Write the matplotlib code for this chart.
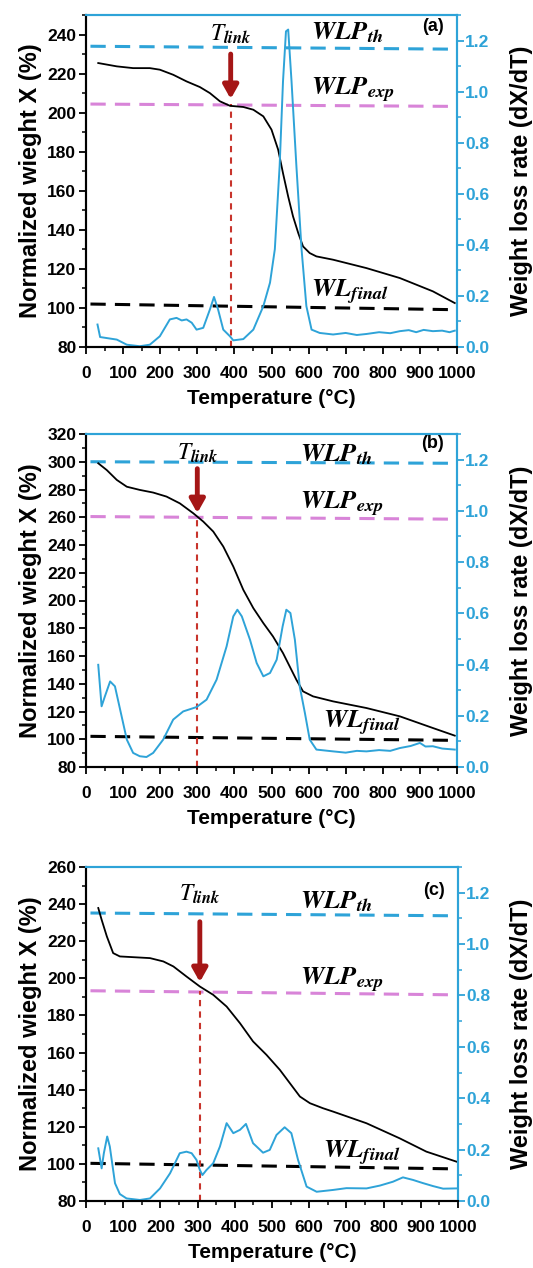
import matplotlib.pyplot as plt
from matplotlib.ticker import MultipleLocator

plt.rcParams['font.family'] = ['Liberation Sans', 'DejaVu Sans']
plt.rcParams['mathtext.fontset'] = 'stix'

# ---- data ----
# panel (a)
tga_t_a = [33, 83, 127, 172, 199, 235, 271, 307, 334, 361, 388, 424, 451, 478, 500, 518, 531,
           545, 558, 572, 585, 603, 621, 666, 756, 846, 935, 994]
tga_a = [225.4, 223.7, 222.8, 222.8, 222.0, 219.4, 216.0, 213.1, 210.0, 205.8, 203.5, 202.9,
         201.5, 198.1, 191.3, 181.0, 169.0, 157.0, 146.9, 138.4, 131.5, 128.1, 126.4, 124.7,
         120.4, 115.3, 108.5, 102.5]
dtg_t_a = [31, 38, 56, 83, 110, 145, 172, 199, 226, 244, 258, 271, 285, 298, 316, 334, 345,
           356, 370, 388, 397, 424, 451, 478, 496, 509, 522, 531, 539, 545, 554, 567, 581, 594,
           608, 630, 666, 700, 730, 756, 790, 820, 846, 870, 890, 910, 935, 960, 980, 994]
dtg_a = [0.088, 0.039, 0.035, 0.029, 0.009, 0.003, 0.009, 0.042, 0.108, 0.114, 0.104, 0.108,
         0.095, 0.068, 0.075, 0.147, 0.196, 0.147, 0.068, 0.042, 0.026, 0.031, 0.068, 0.160,
         0.252, 0.383, 0.711, 1.040, 1.236, 1.243, 1.040, 0.711, 0.383, 0.160, 0.068, 0.055,
         0.049, 0.055, 0.047, 0.051, 0.058, 0.054, 0.062, 0.066, 0.058, 0.067, 0.062, 0.064,
         0.058, 0.064]

# panel (b)
tga_t_b = [33, 56, 83, 110, 145, 181, 217, 253, 289, 316, 343, 370, 397, 424, 451, 478, 504,
           531, 549, 567, 585, 612, 666, 756, 846, 935, 994]
tga_b = [298.9, 294.0, 286.9, 282.0, 279.7, 277.8, 274.9, 270.0, 262.9, 256.9, 249.7, 238.9,
         224.5, 207.7, 194.5, 183.7, 174.1, 162.1, 152.5, 142.9, 134.5, 130.9, 127.3, 122.5,
         116.5, 108.1, 102.6]
dtg_t_b = [33, 42, 51, 65, 78, 92, 110, 127, 145, 163, 181, 208, 235, 262, 298, 325, 352, 379,
           397, 408, 420, 442, 460, 478, 496, 514, 530, 540, 551, 563, 576, 590, 603, 621, 666,
           700, 730, 756, 790, 820, 846, 875, 900, 915, 935, 960, 994]
dtg_b = [0.399, 0.237, 0.276, 0.334, 0.315, 0.224, 0.107, 0.055, 0.042, 0.039, 0.055, 0.107,
         0.185, 0.217, 0.234, 0.263, 0.341, 0.471, 0.588, 0.614, 0.588, 0.497, 0.406, 0.354,
         0.367, 0.419, 0.549, 0.614, 0.601, 0.497, 0.315, 0.211, 0.107, 0.068, 0.061, 0.056,
         0.063, 0.061, 0.066, 0.063, 0.074, 0.082, 0.094, 0.080, 0.081, 0.072, 0.068]

# panel (c)
tga_t_c = [33, 42, 56, 73, 91, 127, 172, 208, 235, 270, 306, 342, 378, 414, 449, 485, 521, 548,
           575, 602, 637, 664, 754, 843, 915, 996]
tga_c = [237.9, 231.6, 222.6, 213.6, 211.8, 211.4, 210.9, 209.1, 206.4, 201.0, 195.6, 191.1,
         184.8, 175.8, 166.0, 158.8, 150.7, 143.5, 136.3, 132.7, 130.0, 128.2, 121.9, 113.8,
         106.6, 101.2]
dtg_t_c = [33, 42, 48, 57, 64, 78, 91, 109, 145, 172, 199, 226, 252, 270, 284, 297, 306, 313,
           324, 342, 360, 378, 396, 414, 430, 449, 476, 494, 512, 534, 552, 570, 593, 620, 664,
           700, 754, 790, 825, 852, 879, 905, 933, 960, 996]
dtg_c = [0.205, 0.127, 0.186, 0.251, 0.212, 0.069, 0.027, 0.010, 0.004, 0.010, 0.049, 0.108,
         0.186, 0.192, 0.186, 0.160, 0.121, 0.101, 0.121, 0.147, 0.212, 0.303, 0.264, 0.277,
         0.300, 0.225, 0.188, 0.199, 0.257, 0.287, 0.264, 0.160, 0.056, 0.036, 0.043, 0.050,
         0.049, 0.060, 0.075, 0.092, 0.082, 0.070, 0.058, 0.048, 0.049]

# reference levels (left-axis units): start and end of each hand-drawn dashed line
wlp_th = [(234.0, 232.5), (300.0, 298.9), (235.2, 233.7)]
wlp_exp = [(204.4, 203.2), (260.5, 258.6), (193.3, 191.1)]
wl_final = [(102.0, 99.1), (102.1, 99.2), (100.3, 97.3)]
t_link = [390, 300, 306]
ylims = [(80, 250), (80, 320), (80, 260)]
letters = ['(a)', '(b)', '(c)']

panels = [(tga_t_a, tga_a, dtg_t_a, dtg_a),
          (tga_t_b, tga_b, dtg_t_b, dtg_b),
          (tga_t_c, tga_c, dtg_t_c, dtg_c)]

BLUE = '#2ea3d8'
PINK = '#d884d8'
DRED = '#a51616'
RED = '#c8342c'

W, H = 533, 1268
fig = plt.figure(figsize=(W / 100, H / 100), dpi=100)
boxes = [(86, 457, 15, 347), (86, 457, 434, 767), (86, 458, 867, 1201)]

# text positions per panel (x, y in left-axis data units)
tlink_pos = [(390, 240), (300, 306), (306, 245)]
th_pos = [(606, 241), (576, 305), (574, 241.5)]
exp_pos = [(606, 211.5), (576, 269), (574, 199)]
fin_pos = [(606, 108), (640, 111.5), (638, 105.5)]
arrow_y = [(230, 207), (295, 263), (230.5, 198)]
letter_y = [0.965, 0.972, 0.93]

for i, (tt, tg, dt, dg) in enumerate(panels):
    l, r, t, b = boxes[i]
    ax = fig.add_axes([l / W, 1 - b / H, (r - l) / W, (b - t) / H])
    ax2 = ax.twinx()
    aw, ah = r - l, b - t

    ax.plot(tt, tg, color='black', lw=1.3, zorder=3)
    ax2.plot(dt, dg, color=BLUE, lw=1.4)

    ax.plot([12, 995], list(wlp_th[i]), color=BLUE, lw=2.2, dashes=(5, 3), zorder=2)
    ax.plot([12, 995], list(wlp_exp[i]), color=PINK, lw=2.2, dashes=(5, 3), zorder=2)
    ax.plot([12, 995], list(wl_final[i]), color='black', lw=2.2, dashes=(5, 3), zorder=2)
    ax.plot([t_link[i], t_link[i]], [80, wlp_exp[i][0]], color=RED, lw=1.5,
            dashes=(3, 2.5), zorder=2)

    ax.annotate('', xy=(t_link[i], arrow_y[i][1]), xytext=(t_link[i], arrow_y[i][0]),
                arrowprops=dict(arrowstyle='-|>,head_width=0.45,head_length=0.8',
                                lw=3.5, color=DRED, shrinkA=0, shrinkB=0), zorder=4)

    ax.text(*tlink_pos[i], r'$\mathit{T}_{\mathbfit{link}}$', fontsize=17,
            ha='center', va='center')
    ax.text(*th_pos[i], r'$\mathbfit{WLP}_{\mathbfit{th}}$', fontsize=19, ha='left', va='center')
    ax.text(*exp_pos[i], r'$\mathbfit{WLP}_{\mathbfit{exp}}$', fontsize=19, ha='left', va='center')
    ax.text(*fin_pos[i], r'$\mathbfit{WL}_{\mathbfit{final}}$', fontsize=19, ha='left', va='center')
    ax.text(0.935, letter_y[i], letters[i], transform=ax.transAxes, fontsize=13,
            fontweight='bold', ha='center', va='center')

    ax.set_xlim(0, 1000)
    ax.set_ylim(*ylims[i])
    ax2.set_ylim(0, 1.3)
    ax.xaxis.set_major_locator(MultipleLocator(100))
    ax.xaxis.set_minor_locator(MultipleLocator(50))
    ax.yaxis.set_major_locator(MultipleLocator(20))
    ax.yaxis.set_minor_locator(MultipleLocator(10))
    ax2.yaxis.set_minor_locator(MultipleLocator(0.1))
    ax2.set_yticks([0, 0.2, 0.4, 0.6, 0.8, 1.0, 1.2])
    ax2.set_yticklabels(['0.0', '0.2', '0.4', '0.6', '0.8', '1.0', '1.2'])

    ax.tick_params(which='major', direction='out', length=5, width=1.3, labelsize=12.5, pad=2)
    ax.tick_params(which='minor', direction='out', length=3, width=1.1)
    ax.tick_params(axis='x', pad=9)
    ax2.tick_params(which='major', direction='out', length=5, width=1.3, labelsize=12.5,
                    colors=BLUE, pad=1)
    ax2.tick_params(which='minor', direction='out', length=3, width=1.1, colors=BLUE)
    for lab in ax.get_xticklabels() + ax.get_yticklabels() + ax2.get_yticklabels():
        lab.set_fontweight('bold')

    for a in (ax, ax2):
        a.spines['left'].set_color('black')
        a.spines['bottom'].set_color('black')
        a.spines['top'].set_color(BLUE)
        a.spines['right'].set_color(BLUE)
        for s in a.spines.values():
            s.set_linewidth(1.5)

    ax.set_xlabel('Temperature (°C)', fontsize=15, fontweight='bold')
    ax.set_ylabel('Normalized wieght X (%)', fontsize=17, fontweight='bold')
    ax2.set_ylabel('Weight loss rate (dX/dT)', fontsize=17, fontweight='bold')
    ax.xaxis.set_label_coords(0.5, -42 / ah)
    ax.yaxis.set_label_coords(-(l - 42) / aw, 0.5)
    ax2.yaxis.set_label_coords((510 - l) / aw, 0.5)

fig.savefig('out.png', dpi=100)
